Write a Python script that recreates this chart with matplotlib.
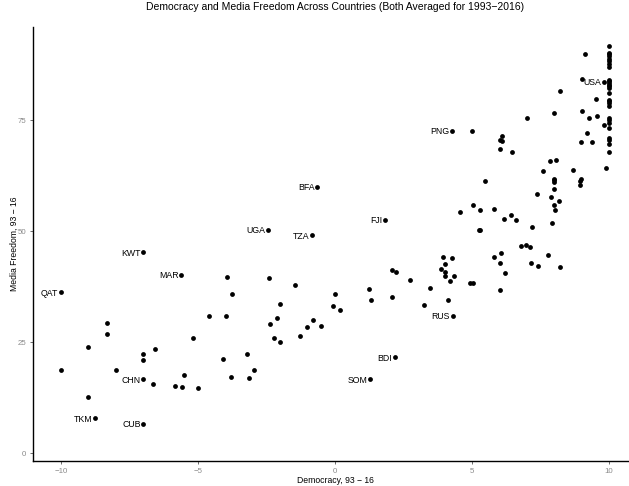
import matplotlib
matplotlib.use("Agg")
import matplotlib.pyplot as plt

plt.rcParams['font.family'] = ['Liberation Sans', 'DejaVu Sans']

# labelled countries
codes = ['QAT', 'KWT', 'MAR', 'CHN', 'TKM', 'CUB', 'UGA', 'TZA', 'BFA',
         'FJI', 'PNG', 'USA', 'RUS', 'BDI', 'SOM']
code_dem = [-10, -7, -5.6, -7, -8.75, -7, -2.43, -0.83, -0.65,
            1.81, 4.26, 9.82, 4.29, 2.18, 1.27]
code_media = [36.3, 45.3, 40.2, 16.7, 7.9, 6.7, 50.3, 49.1, 60.0,
              52.6, 72.6, 83.6, 31.0, 21.6, 16.7]

# the rest of the countries
other_dem = [
    9.12, 9.0, 8.21, 9.52, 8.0, 7.0, 9.0, 9.27, 9.55, 9.82, 9.19, 8.96, 9.37,
    5.01, 6.1, 6.0, 6.1, 6.0, 6.47, 9.87, 7.84, 8.05, 7.6, 8.68,
    8.0, 8.0, 8.0, 8.98, 8.95, 8.92, 5.48, 8.0, 7.36,
    7.87, 8.18, 7.99, 8.02, 5.04, 4.57, 5.29, 5.81, 6.16, 6.41, 6.61,
    7.2, 7.91, 5.24, 5.29, 6.77, 6.97, 7.13, 7.76, 5.8, 6.04, 6.0, 6.2,
    7.16, 7.39, 8.21, 3.93, 4.25, 4.02, 3.86, 4.0, 4.0, 4.33, 4.2,
    4.91, 5.05, 6.0, 3.48, 4.13, 3.26, 2.74, 2.09, 2.21, 2.09, 1.25, 1.3,
    0.01, -0.07, 0.18, -0.79, -0.5,
    10, 10, 10, 10, 10, 10, 10, 10, 10, 10, 10, 10, 10, 10,
    10, 10, 10, 10, 10, 10, 10, 10, 10, 10, 10, 10, 10,
    -3.94, -2.42, -1.47, -3.77, -1.99, -4.6, -3.98, -2.1, -2.38, -1.02,
    -2.24, -1.26, -1.99, -8.33, -8.33, -9, -5.17, -6.55, -7, -7,
    -4.08, -3.22, -10, -8.0, -2.97, -5.5, -3.81, -3.15, -6.65, -5.85,
    -5.57, -5.01, -9,
]
other_media = [
    89.9, 84.2, 81.5, 79.7, 76.7, 75.4, 77.1, 75.5, 76.0, 73.9, 72.0, 70.0, 70.0,
    72.6, 71.5, 70.6, 70.3, 68.5, 67.9, 64.3, 65.8, 66.1, 63.6, 63.7,
    61.8, 61.5, 61.0, 61.8, 61.4, 60.5, 61.3, 59.5, 58.4,
    57.8, 56.7, 55.9, 54.7, 55.9, 54.3, 54.8, 54.9, 52.8, 53.7, 52.6,
    51.0, 51.9, 50.2, 50.3, 46.6, 46.8, 46.4, 44.6, 44.2, 45.1, 42.8, 40.5,
    42.9, 42.1, 42.0, 44.1, 43.9, 42.5, 41.5, 40.9, 39.9, 39.9, 38.7,
    38.3, 38.3, 36.8, 37.3, 34.5, 33.4, 39.0, 41.3, 40.8, 35.1, 36.9, 34.5,
    35.9, 33.2, 32.3, 30.1, 28.7,
    91.7, 90.2, 89.8, 89.4, 88.8, 88.3, 87.7, 86.9, 84.1, 83.8, 83.4, 83.0,
    82.7, 82.3, 81.0, 79.6, 79.3, 78.8, 78.2, 75.5, 75.0, 74.4, 73.3, 71.0,
    70.6, 69.7, 67.9,
    39.6, 39.5, 37.8, 35.9, 33.7, 30.8, 30.8, 30.4, 29.0, 28.4,
    26.0, 26.3, 25.1, 29.3, 26.8, 23.9, 25.9, 23.4, 22.4, 21.1,
    21.2, 22.4, 18.7, 18.8, 18.8, 17.6, 17.2, 17.0, 15.7, 15.2,
    15.0, 14.6, 12.7,
]

xticks = [-10, -5, 0, 5, 10]
yticks = [0, 25, 50, 75]

W, H = 629, 486
fig = plt.figure(figsize=(W / 100, H / 100), dpi=100)
# panel runs a bit past the right edge, like the cropped original
ax = fig.add_axes([33.4 / W, 25.3 / H, 603.2 / W, 433.4 / H])

ax.scatter(other_dem, other_media, s=12, color='black', linewidths=0, zorder=3)
ax.scatter(code_dem, code_media, s=12, color='black', linewidths=0, zorder=3)
for c, x, y in zip(codes, code_dem, code_media):
    ax.annotate(c, (x, y), xytext=(-1.8, 0), textcoords='offset points',
                ha='right', va='center_baseline', fontsize=6.3, color='black')

ax.set_xlim(-11, 11)
ax.set_ylim(-1.67, 95.9)
ax.set_xticks(xticks)
ax.set_xticklabels([str(t).replace('-', '\u2212') for t in xticks])
ax.set_yticks(yticks)

for side in ['top', 'right']:
    ax.spines[side].set_visible(False)
for side in ['left', 'bottom']:
    ax.spines[side].set_linewidth(1.0)
    ax.spines[side].set_color('black')
ax.tick_params(length=2.5, width=0.6, color='#555555', labelcolor='#8a8a8a',
               labelsize=5.7, pad=2.5)

fig.text(335 / W, 1 - 7 / H,
         'Democracy and Media Freedom Across Countries (Both Averaged for 1993\u22122016)',
         ha='center', va='center', fontsize=7.45)
fig.text(335 / W, 1 - 480 / H, 'Democracy, 93 \u2212 16',
         ha='center', va='center', fontsize=6.2)
fig.text(14 / W, 1 - 244 / H, 'Media Freedom, 93 \u2212 16',
         ha='center', va='center', rotation=90, fontsize=6.2)

fig.savefig('out.png', dpi=100)
